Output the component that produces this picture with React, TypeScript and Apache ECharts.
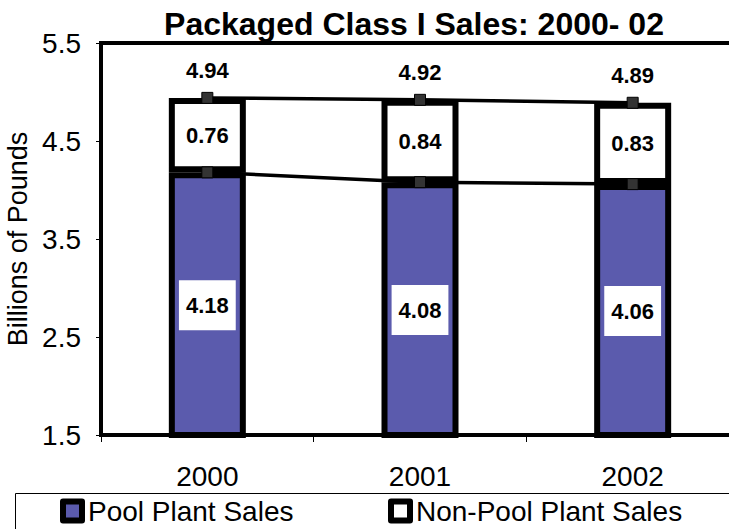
import React, { useEffect, useRef } from "react";
import * as echarts from "echarts";

const years = ["2000", "2001", "2002"];
const poolSales = [4.18, 4.08, 4.06];
const nonPoolSales = [0.76, 0.84, 0.83];
const totalSales = [4.94, 4.92, 4.89];
const yMin = 1.5;
const yMax = 5.5;
const yStep = 1;

const FONT = "Liberation Sans";

export default function App() {
  const ref = useRef<HTMLDivElement>(null);
  useEffect(() => {
    if (!ref.current) return;
    const chart = echarts.init(ref.current, null, { renderer: "svg" });
    const legendText = { fontFamily: FONT, fontSize: 28, lineHeight: 28, color: "#000", padding: [0, 0, 0, 1] };
    const legendCommon = {
      top: 497,
      padding: 0,
      icon: "rect",
      itemWidth: 19,
      itemHeight: 19,
      itemStyle: { borderColor: "#000", borderWidth: 6, borderJoin: "round" },
      textStyle: legendText,
    };
    chart.setOption({
      animation: false,
      backgroundColor: "#ffffff",
      textStyle: { fontFamily: FONT, color: "#000" },
      title: {
        text: "Packaged Class I Sales: 2000- 02",
        left: 409,
        textAlign: "center",
        top: 3,
        textStyle: { fontFamily: FONT, fontSize: 32, fontWeight: "bold", color: "#000" },
      },
      grid: {
        left: 101,
        top: 43,
        bottom: 94,
        right: -10,
        outerBoundsMode: "none",
        containLabel: false,
        show: true,
        borderColor: "#000",
        borderWidth: 4,
        backgroundColor: "transparent",
      },
      legend: [
        { ...legendCommon, data: ["Pool Plant Sales"], left: 60 },
        { ...legendCommon, data: ["Non-Pool Plant Sales"], left: 388 },
      ],
      graphic: [
        {
          type: "rect",
          shape: { x: 15.5, y: 493.5, width: 740, height: 60 },
          style: { fill: "none", stroke: "#000", lineWidth: 1 },
          silent: true,
        },
      ],
      xAxis: {
        type: "category",
        data: years,
        axisLine: { lineStyle: { color: "#000", width: 4 } },
        axisTick: { show: true, length: 7, lineStyle: { color: "#000", width: 1 } },
        axisLabel: { fontFamily: FONT, fontSize: 28, color: "#000", margin: 27 },
      },
      yAxis: {
        type: "value",
        min: yMin,
        max: yMax,
        interval: yStep,
        name: "Billions of Pounds",
        nameLocation: "middle",
        nameRotate: 90,
        nameGap: 65,
        nameTextStyle: { fontFamily: FONT, fontSize: 27, color: "#000" },
        axisLine: { show: true, lineStyle: { color: "#000", width: 4 } },
        axisTick: { show: true, length: 5, lineStyle: { color: "#000", width: 1 } },
        splitLine: { show: false },
        axisLabel: { fontFamily: FONT, fontSize: 28, color: "#000", margin: 20, formatter: (v: number) => v.toFixed(1) },
      },
      series: [
        {
          name: "Pool Plant Sales",
          type: "bar",
          stack: "s",
          data: poolSales,
          barWidth: 77,
          itemStyle: { color: "#5B5BAD", borderColor: "#000", borderWidth: 6 },
          label: {
            show: true,
            position: "inside",
            fontFamily: FONT,
            fontSize: 22,
            fontWeight: "bold",
            color: "#000",
            backgroundColor: "#fff",
            padding: [14, 7],
            formatter: (p: any) => p.value.toFixed(2),
          },
        },
        {
          name: "Non-Pool Plant Sales",
          type: "bar",
          stack: "s",
          data: nonPoolSales,
          barWidth: 77,
          itemStyle: { color: "#fff", borderColor: "#000", borderWidth: 6 },
          label: {
            show: true,
            position: "inside",
            fontFamily: FONT,
            fontSize: 22,
            fontWeight: "bold",
            color: "#000",
            formatter: (p: any) => p.value.toFixed(2),
          },
        },
        {
          name: "poolLine",
          type: "line",
          data: poolSales,
          symbol: "rect",
          symbolSize: 11,
          lineStyle: { color: "#000", width: 3.5 },
          itemStyle: { color: "#333", borderColor: "#000", borderWidth: 1 },
          z: 5,
        },
        {
          name: "totalLine",
          type: "line",
          data: totalSales,
          symbol: "rect",
          symbolSize: 11,
          lineStyle: { color: "#000", width: 3.5 },
          itemStyle: { color: "#333", borderColor: "#000", borderWidth: 1 },
          z: 5,
          label: {
            show: true,
            position: "top",
            distance: 10,
            fontFamily: FONT,
            fontSize: 22,
            fontWeight: "bold",
            color: "#000",
            formatter: (p: any) => p.value.toFixed(2),
          },
        },
      ],
    });
    return () => chart.dispose();
  }, []);
  return <div ref={ref} style={{ width: 729, height: 529, position: "absolute", left: 0, top: 0 }} />;
}
